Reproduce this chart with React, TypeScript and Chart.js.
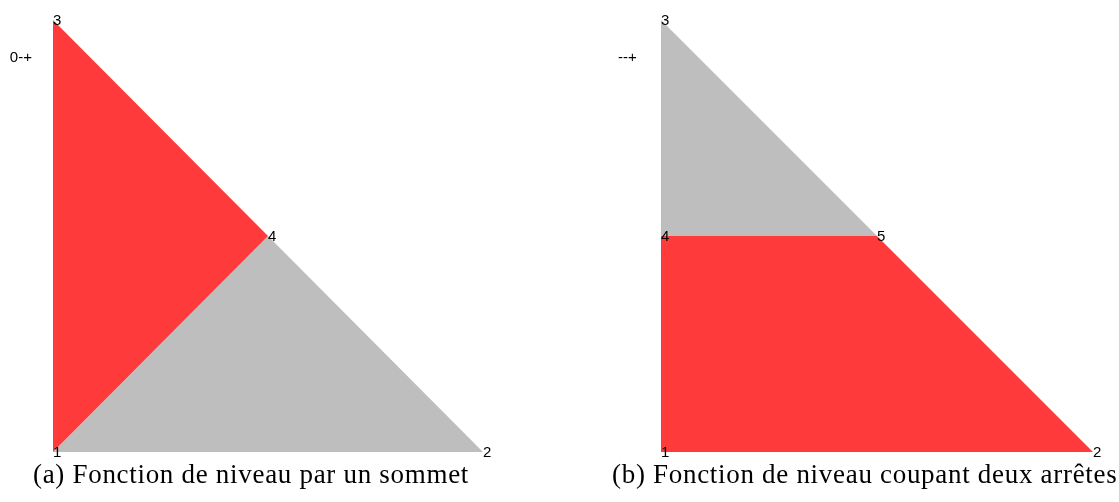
import React, { useEffect, useRef } from "react";
import { Chart, registerables } from "chart.js";

Chart.register(...registerables);

// ---- data ----
const leftLabels = ["1", "2", "3", "4"];
const leftX = [0, 1, 0, 0.5];
const leftY = [0, 0, 1, 0.5];
const leftRedPoly = [0, 3, 2];
const leftGrayPoly = [0, 1, 3];
const leftNote = "0-+";

const rightLabels = ["1", "2", "3", "4", "5"];
const rightX = [0, 1, 0, 0, 0.5];
const rightY = [0, 0, 1, 0.5, 0.5];
const rightGrayPoly = [2, 3, 4];
const rightRedPoly = [3, 4, 1, 0];
const rightNote = "--+";

const captionA = "(a) Fonction de niveau par un sommet";
const captionB = "(b) Fonction de niveau coupant deux arrêtes";

const RED = "#FF3A3A";
const GRAY = "#BEBEBE";

const labelPlugin = {
  id: "vertexLabels",
  afterDatasetsDraw(chart: any) {
    const o = chart.options.plugins.vertexLabels;
    if (!o) return;
    const { ctx } = chart;
    const xs = chart.scales.x;
    const ys = chart.scales.y;
    ctx.save();
    ctx.font = "15px 'Liberation Sans', Arial, sans-serif";
    ctx.fillStyle = "#000";
    ctx.textBaseline = "middle";
    ctx.textAlign = "left";
    o.labels.forEach((t: string, i: number) => {
      ctx.fillText(t, xs.getPixelForValue(o.x[i]), ys.getPixelForValue(o.y[i]) + 1);
    });
    ctx.textAlign = "right";
    ctx.fillText(o.note, xs.getPixelForValue(o.noteX), ys.getPixelForValue(o.noteY));
    ctx.restore();
  },
};

function poly(xs: number[], ys: number[], idx: number[]) {
  const pts = idx.map((i) => ({ x: xs[i], y: ys[i] }));
  pts.push({ x: xs[idx[0]], y: ys[idx[0]] });
  return pts;
}

function makeConfig(
  xs: number[],
  ys: number[],
  labels: string[],
  polys: { idx: number[]; color: string }[],
  note: string,
  noteX: number,
  padding: { left: number; right: number; top: number; bottom: number }
): any {
  return {
    type: "scatter",
    data: {
      datasets: polys.map((p) => ({
        data: poly(xs, ys, p.idx),
        showLine: true,
        fill: "shape",
        backgroundColor: p.color,
        borderColor: p.color,
        borderWidth: 0,
        pointRadius: 0,
        tension: 0,
        clip: false,
      })),
    },
    options: {
      animation: false,
      responsive: false,
      maintainAspectRatio: false,
      events: [],
      layout: { padding },
      scales: {
        x: { type: "linear", min: 0, max: 1, display: false },
        y: { type: "linear", min: 0, max: 1, display: false },
      },
      plugins: {
        legend: { display: false },
        tooltip: { enabled: false },
        vertexLabels: { x: xs, y: ys, labels, note, noteX, noteY: 0.912 },
      },
    },
    plugins: [labelPlugin],
  };
}

export default function App() {
  const leftRef = useRef<HTMLCanvasElement>(null);
  const rightRef = useRef<HTMLCanvasElement>(null);

  useEffect(() => {
    const c1 = new Chart(
      leftRef.current!,
      makeConfig(
        leftX,
        leftY,
        leftLabels,
        [
          { idx: leftRedPoly, color: RED },
          { idx: leftGrayPoly, color: GRAY },
        ],
        leftNote,
        -0.049,
        { left: 53, right: 57, top: 20, bottom: 10 }
      )
    );
    const c2 = new Chart(
      rightRef.current!,
      makeConfig(
        rightX,
        rightY,
        rightLabels,
        [
          { idx: rightGrayPoly, color: GRAY },
          { idx: rightRedPoly, color: RED },
        ],
        rightNote,
        -0.056,
        { left: 81, right: 26, top: 20, bottom: 10 }
      )
    );
    return () => {
      c1.destroy();
      c2.destroy();
    };
  }, []);

  const capStyle: React.CSSProperties = {
    position: "absolute",
    top: 461,
    fontFamily: "'Liberation Serif', 'Times New Roman', serif",
    fontSize: 27,
    lineHeight: "27px",
    letterSpacing: "0.7px",
    whiteSpace: "nowrap",
    textAlign: "center",
    color: "#000",
  };

  return (
    <div
      style={{
        position: "fixed",
        left: 0,
        top: 0,
        width: 1119,
        height: 502,
        background: "#fff",
        overflow: "hidden",
      }}
    >
      <canvas
        ref={leftRef}
        width={540}
        height={462}
        style={{ position: "absolute", left: 0, top: 0, width: 540, height: 462 }}
      />
      <canvas
        ref={rightRef}
        width={539}
        height={462}
        style={{ position: "absolute", left: 580, top: 0, width: 539, height: 462 }}
      />
      <div style={{ ...capStyle, left: 0, width: 502 }}>{captionA}</div>
      <div style={{ ...capStyle, left: 612, width: 505 }}>{captionB}</div>
    </div>
  );
}
